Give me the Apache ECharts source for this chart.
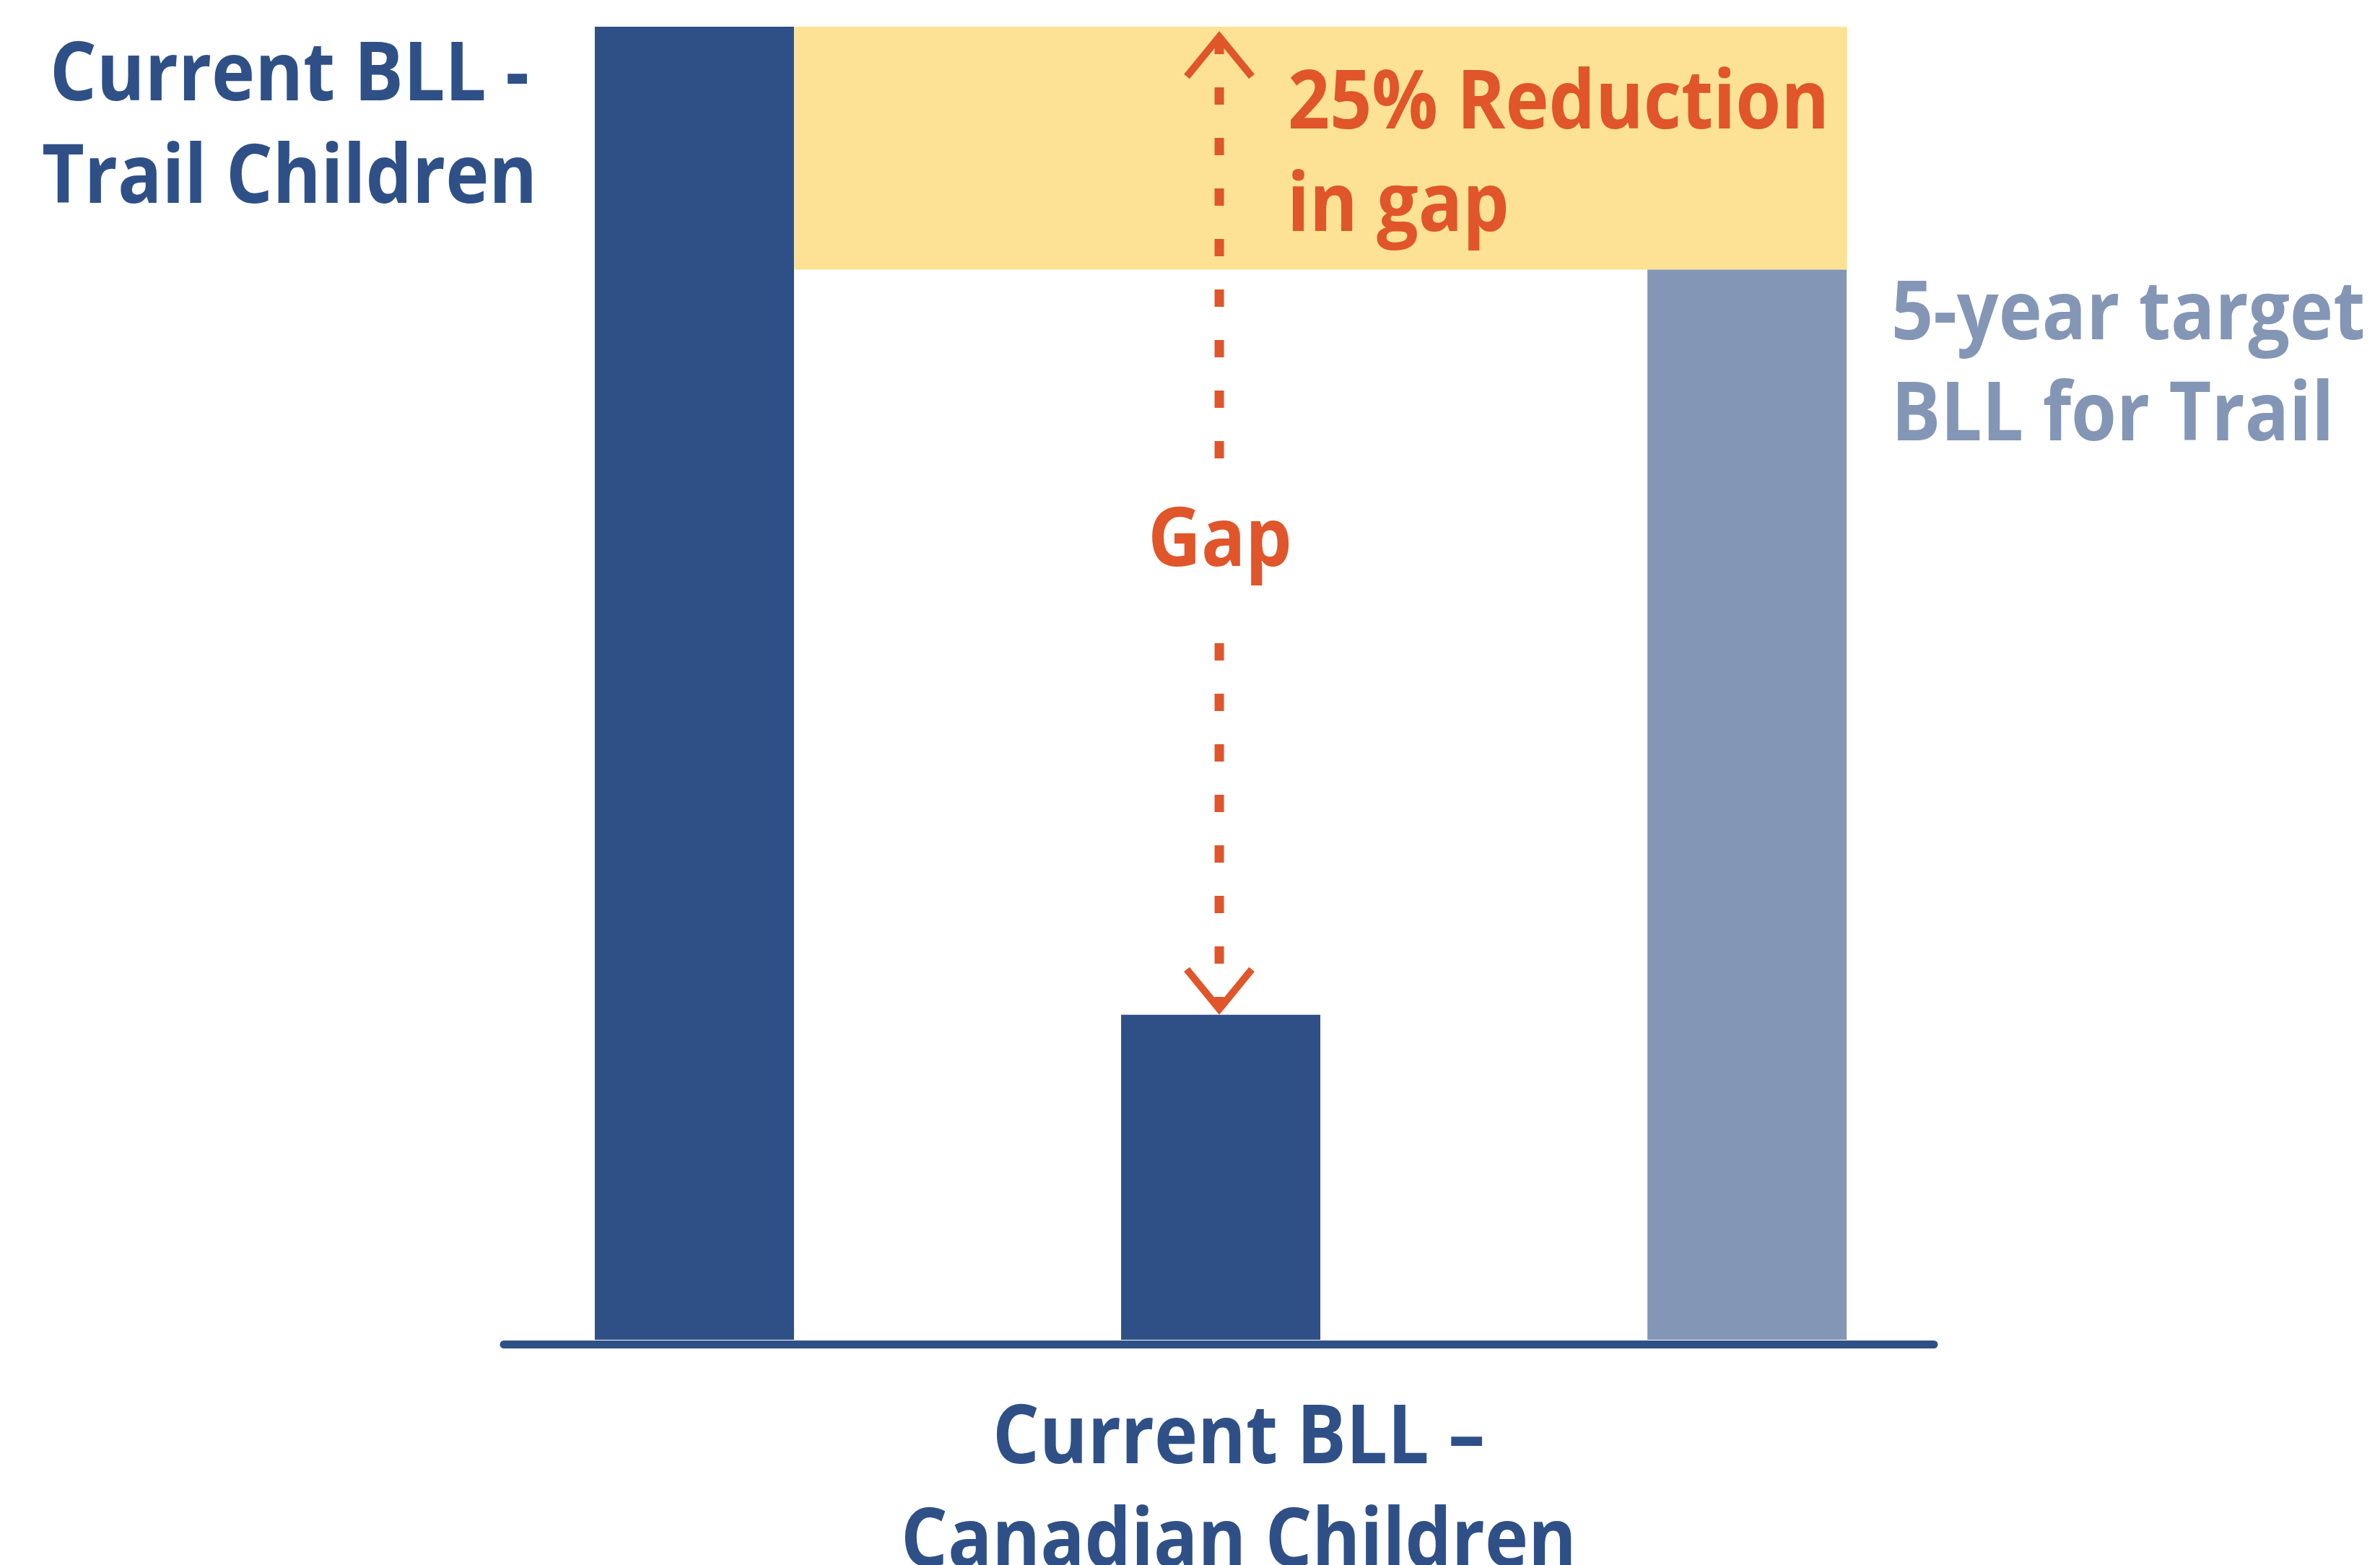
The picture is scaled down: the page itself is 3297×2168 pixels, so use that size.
<!DOCTYPE html>
<html>
<head>
<meta charset="utf-8">
<script src="https://cdn.jsdelivr.net/npm/echarts@6/dist/echarts.min.js"></script>
<style>
  html, body { margin: 0; padding: 0; background: #ffffff; }
  #chart { width: 3297px; height: 2168px; }
</style>
</head>
<body>
<div id="chart"></div>
<script>
// blood lead levels (relative units)
var barNames = ["Current BLL - Trail Children", "Current BLL – Canadian Children", "5-year target BLL for Trail"];
var barX = [0, 1, 2];
var barValues = [4.0, 0.99, 3.26];
var barColors = ["#2F5087", "#2F5087", "#8496B6"];

var DARK = "#2F5087";
var LIGHT = "#8496B6";
var ORANGE = "#E0552A";
var YELLOW = "#FDE295";
var FONT = '"Open Sans", "Noto Sans", sans-serif';
var SQUEEZE = 0.9;
var HALF_BAR = 0.19; // half bar width in x units

var chart = echarts.init(document.getElementById("chart"));

function label(text, x, y, align, color, extra) {
  var el = {
    type: "text",
    x: x,
    y: y + 8,
    z: 100,
    scaleX: SQUEEZE,
    style: {
      text: text,
      fill: color,
      fontFamily: FONT,
      fontWeight: 700,
      fontSize: 113,
      align: align,
      verticalAlign: "middle"
    }
  };
  if (extra) {
    for (var k in extra) el.style[k] = extra[k];
  }
  return el;
}

var barData = barX.map(function (x, i) {
  return { value: [x, barValues[i]], name: barNames[i], itemStyle: { color: barColors[i] } };
});

var option = {
  animation: false,
  backgroundColor: "#ffffff",
  grid: { left: 698, right: 618, top: 37, bottom: 312 },
  xAxis: {
    type: "value",
    min: -0.362,
    max: 2.355,
    offset: 6,
    axisLine: { show: true, onZero: false, lineStyle: { color: DARK, width: 11 } },
    axisTick: { show: false },
    axisLabel: { show: false },
    splitLine: { show: false }
  },
  yAxis: {
    type: "value",
    min: 0,
    max: barValues[0],
    show: false,
    splitLine: { show: false }
  },
  series: [
    {
      type: "bar",
      barWidth: 276,
      data: barData,
      markArea: {
        silent: true,
        itemStyle: { color: YELLOW },
        data: [[
          { xAxis: barX[0] + HALF_BAR, yAxis: barValues[2] },
          { xAxis: barX[2] + HALF_BAR, yAxis: barValues[0] }
        ]]
      }
    },
    {
      // the gap arrow between Trail and Canadian levels
      type: "custom",
      z: 5,
      data: [[barX[1], barValues[0], barValues[1]]],
      renderItem: function (params, api) {
        var top = api.coord([api.value(0), api.value(1)]);
        var bot = api.coord([api.value(0), api.value(2)]);
        var x = top[0] - 2;
        var yTop = top[1] + 14;
        var yBot = bot[1] - 8;
        var stroke = { stroke: ORANGE, lineWidth: 10, fill: null, lineJoin: "miter" };
        return {
          type: "group",
          children: [
            {
              type: "line",
              shape: { x1: x, y1: yTop, x2: x, y2: yBot },
              style: { stroke: ORANGE, lineWidth: 13, lineDash: [24, 46], lineDashOffset: 0 }
            },
            {
              type: "polyline",
              shape: { points: [[x - 45, yTop + 55], [x, yTop], [x + 45, yTop + 55]] },
              style: stroke
            },
            {
              type: "polyline",
              shape: { points: [[x - 45, yBot - 55], [x, yBot], [x + 45, yBot - 55]] },
              style: stroke
            }
          ]
        };
      }
    }
  ],
  graphic: [
    label("Current BLL -", 401, 99, "center", DARK),
    label("Trail Children", 401, 241, "center", DARK),
    label("25% Reduction", 1784, 138, "left", ORANGE),
    label("in gap", 1783, 280, "left", ORANGE),
    label("5-year target", 2620, 430, "left", LIGHT),
    label("BLL for Trail", 2620, 570, "left", LIGHT),
    label("Current BLL –", 1716, 1987, "center", DARK),
    label("Canadian Children", 1716, 2130, "center", DARK),
    label("Gap", 1690, 744, "center", ORANGE, { backgroundColor: "#ffffff", padding: [45, 10] })
  ]
};

chart.setOption(option);
</script>
</body>
</html>
